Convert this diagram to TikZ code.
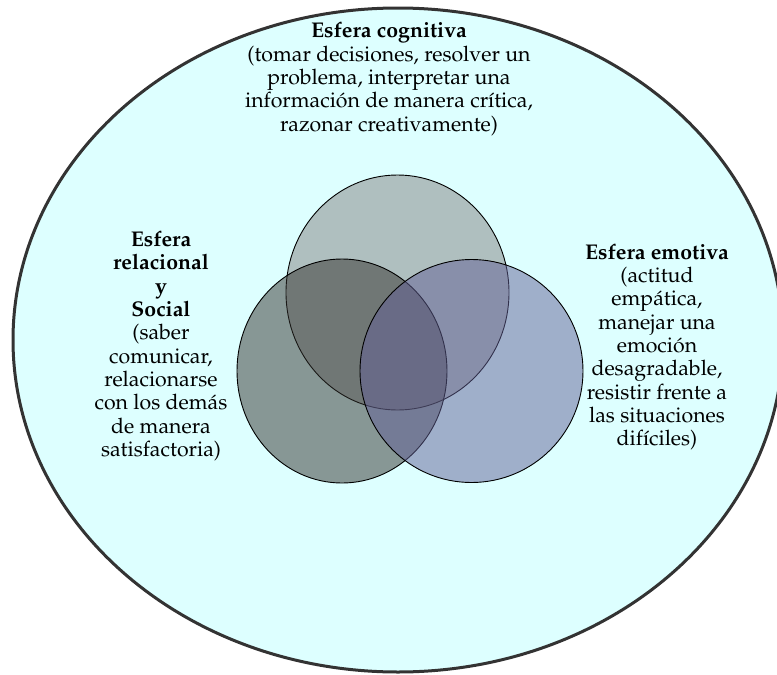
\documentclass[tikz,border=0pt]{standalone}
\usepackage[T1]{fontenc}
\usepackage{mathpazo}
\definecolor{bgcyan}{RGB}{221,255,255}
\definecolor{rimgray}{RGB}{51,51,51}
\definecolor{topc}{RGB}{131,129,129}
\definecolor{leftc}{RGB}{51,49,45}
\definecolor{rightc}{RGB}{99,97,151}
\tikzset{
  venn/.style={draw=black, line width=0.9pt, fill opacity=0.5},
  lbl/.style={align=center, text=black, font=\fontsize{21.3}{23.3}\selectfont, inner sep=0pt}
}
\begin{document}
\begin{tikzpicture}[x=1pt,y=-1pt]
\useasboundingbox (0,0) rectangle (777,675);
\clip (0,0) rectangle (777,675);
\draw[fill=bgcyan, draw=rimgray, line width=3pt] (398,340) ellipse [x radius=385, y radius=332];
\path[venn, fill=topc] (397.5,292.5) ellipse [x radius=111.5, y radius=117.5];
\path[venn, fill=leftc] (342,371) ellipse [x radius=105, y radius=112];
\path[venn, fill=rightc] (471.5,371) ellipse [x radius=111.5, y radius=111.5];
\node[lbl] (cog) at (389,79) {\textbf{Esfera cognitiva}\\(tomar decisiones, resolver un\\problema, interpretar una\\informaci\'on de manera cr\'{\i}tica,\\razonar creativamente)};
\node[lbl] (rel) at (161,346) {\textbf{Esfera}\\\textbf{relacional}\\\textbf{y}\\\textbf{Social}\\(saber\\comunicar,\\relacionarse\\con los dem\'as\\de manera\\satisfactoria)};
\node[lbl] (emo) at (657,347) {\textbf{Esfera emotiva}\\(actitud\\emp\'atica,\\manejar una\\emoci\'on\\desagradable,\\resistir frente a\\las situaciones\\dif\'{\i}ciles)};
\end{tikzpicture}
\end{document}
